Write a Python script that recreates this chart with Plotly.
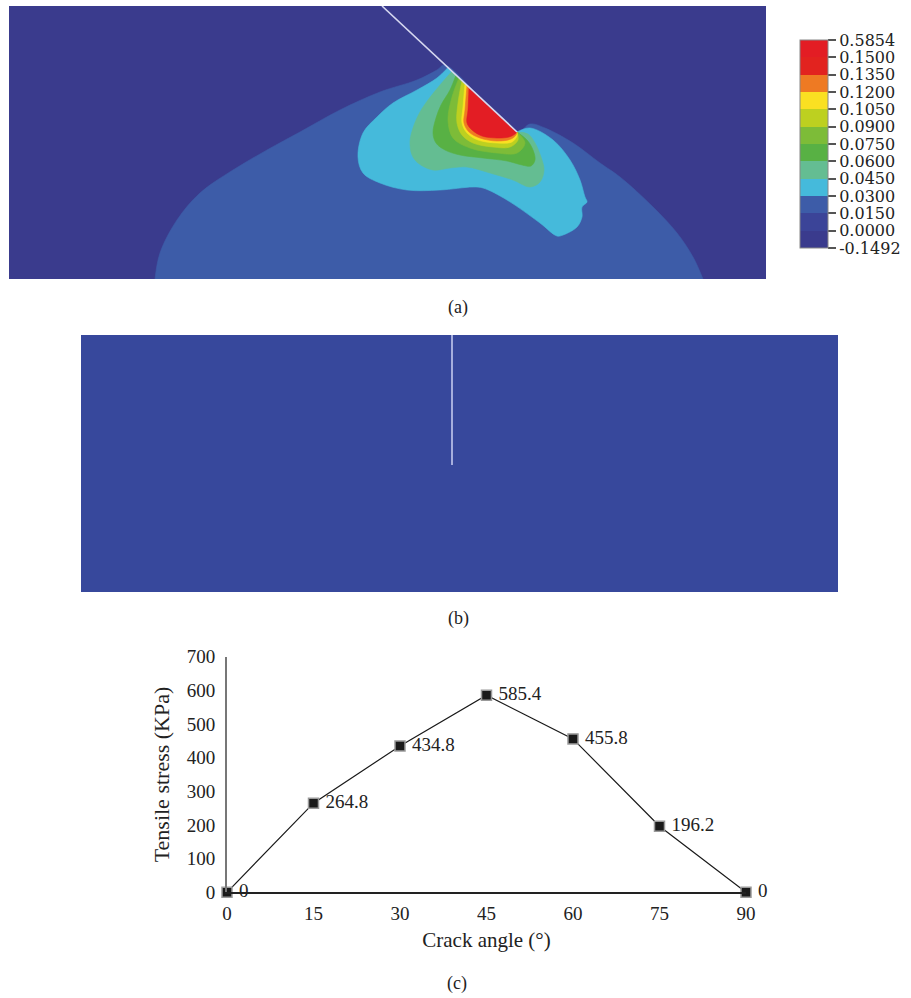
import plotly.graph_objects as go

# ---------------- data ----------------
# colour-bar levels of panel (a), bottom -> top
level_labels = ["-0.1492", "0.0000", "0.0150", "0.0300", "0.0450", "0.0600", "0.0750",
                "0.0900", "0.1050", "0.1200", "0.1350", "0.1500", "0.5854"]
level_colors = ["#3A3B8D", "#3B4498", "#3D5CA8", "#45BADB", "#64BD92", "#58B144",
                "#7DBC38", "#BDD020", "#FAE022", "#EE7A23", "#E2231F", "#E31D24"]

# panel (a): band outlines (model units, x across, depth down)
band2_x = [146, 151, 168, 191, 224, 258, 291, 331, 371, 408, 428, 436, 508, 521, 536,
           564, 591, 611, 644, 668, 684, 694]
band2_d = [273, 247, 214, 187, 164, 144, 126, 104, 86, 74, 64, 59, 126, 118, 122,
           137, 157, 171, 201, 227, 251, 273]

band3_x = [439, 428, 408, 384, 368, 354, 349, 354, 371, 398, 431, 464, 474, 498, 531,
           548, 554, 568, 573, 573, 578, 576, 571, 561, 544, 521, 508]
band3_d = [61.6, 72, 84, 97, 111, 127, 151, 167, 177, 184, 184, 181, 182, 194, 217,
           230, 229, 221, 211, 201, 196, 191, 174, 154, 134, 122, 126]

band4_x = [443, 431, 419, 411, 404, 401, 403, 409, 424, 441, 458, 481, 504, 521, 531,
           535, 532, 526, 519, 508]
band4_d = [65.3, 79, 94, 106, 122, 136, 149, 157, 164, 162, 161, 167, 174, 181, 176,
           164, 151, 137, 128, 126]

band5_x = [447, 441, 432, 427, 424, 427, 436, 451, 474, 498, 513, 522, 526, 524, 518, 508]
band5_d = [69.1, 84, 99, 112, 127, 137, 144, 149, 152, 155, 159, 160, 154, 144, 134, 126]

band6_x = [450, 443, 439, 444, 461, 488, 508, 516, 508]
band6_d = [71.9, 91, 114, 132, 142, 147, 147, 137, 126]

band7_x = [453, 449, 448, 453, 464, 484, 501, 509, 508]
band7_d = [74.7, 97, 117, 129, 137, 141, 141, 134, 126]

band8_x = [456, 454, 453, 458, 469, 488, 503, 508, 508]
band8_d = [77.5, 101, 117, 127, 134, 137, 136, 130, 126]

band9_x = [458, 456, 455, 460, 471, 488, 502, 507, 508]
band9_d = [79.3, 104, 117, 126, 132, 135, 133, 129, 126]

band11_x = [460, 459, 458, 463, 473, 488, 500, 506, 508]
band11_d = [81.2, 104, 117, 124, 130, 132, 131, 128, 126]

crack_a_x = [373, 508]
crack_a_d = [0, 126]

# panel (b): vertical crack
crack_b_x = [371, 371]
crack_b_d = [0, 130]

# panel (c): tensile stress vs crack angle
angles = [0, 15, 30, 45, 60, 75, 90]
stress = [0, 264.8, 434.8, 585.4, 455.8, 196.2, 0]
x_ticks = [0, 15, 30, 45, 60, 75, 90]

# ---------------- figure ----------------
SERIF = "Liberation Serif"
W, H = 911, 998

fig = go.Figure()

bands = [(2, band2_x, band2_d), (3, band3_x, band3_d), (4, band4_x, band4_d),
         (5, band5_x, band5_d), (6, band6_x, band6_d), (7, band7_x, band7_d),
         (8, band8_x, band8_d), (9, band9_x, band9_d), (11, band11_x, band11_d)]
for lvl, bx, bd in bands:
    fig.add_trace(go.Scatter(x=bx, y=bd, mode="lines", fill="toself",
                             fillcolor=level_colors[lvl], line=dict(width=0.6, color=level_colors[lvl]),
                             line_shape="spline", xaxis="x", yaxis="y",
                             hoverinfo="skip", showlegend=False))

fig.add_trace(go.Scatter(x=crack_a_x, y=crack_a_d, mode="lines",
                         line=dict(color="#D6D8F0", width=1.6), xaxis="x", yaxis="y",
                         hoverinfo="skip", showlegend=False))

# colour bar (dummy trace)
cs = []
n = len(level_colors)
for i, c in enumerate(level_colors):
    cs.append([i / n, c])
    cs.append([(i + 1) / n, c])
fig.add_trace(go.Scatter(
    x=[None], y=[None], mode="markers", xaxis="x", yaxis="y", showlegend=False,
    marker=dict(color=[0], cmin=0, cmax=n, colorscale=cs, showscale=True,
                colorbar=dict(x=800 / W, xanchor="left", xpad=0,
                              y=1 - 144 / H, yanchor="middle", ypad=0,
                              len=208, lenmode="pixels", thickness=28,
                              tickvals=list(range(n + 1)), ticktext=level_labels,
                              ticks="outside", ticklen=8, tickwidth=1.5, tickcolor="#555",
                              outlinecolor="#888", outlinewidth=1,
                              tickfont=dict(family="DejaVu Serif", size=16, color="#222")))))

# panel (b)
fig.add_trace(go.Scatter(x=crack_b_x, y=crack_b_d, mode="lines",
                         line=dict(color="#A6AEDD", width=2), xaxis="x2", yaxis="y2",
                         hoverinfo="skip", showlegend=False))

# panel (c)
fig.add_trace(go.Scatter(
    x=angles, y=stress, mode="lines+markers+text", xaxis="x3", yaxis="y3",
    line=dict(color="#1A1A1A", width=1.2),
    marker=dict(symbol="square", size=10, color="#1A1A1A", line=dict(color="#9A9A9A", width=1.5)),
    text=[" " + f"{v:g}" for v in stress], textposition="middle right",
    textfont=dict(family=SERIF, size=19, color="#222"),
    cliponaxis=False, showlegend=False, hoverinfo="skip"))

hidden = dict(visible=False, showgrid=False, zeroline=False, fixedrange=True)
cap_font = dict(family=SERIF, size=18, color="#222")

fig.update_layout(
    width=W, height=H, margin=dict(l=0, r=0, t=0, b=0, autoexpand=False),
    paper_bgcolor="white", plot_bgcolor="rgba(0,0,0,0)",
    showlegend=False,
    xaxis=dict(domain=[9 / W, 766 / W], range=[0, 757], anchor="y", **hidden),
    yaxis=dict(domain=[1 - 279 / H, 1 - 6 / H], range=[273, 0], anchor="x", **hidden),
    xaxis2=dict(domain=[81 / W, 838 / W], range=[0, 757], anchor="y2", **hidden),
    yaxis2=dict(domain=[1 - 592 / H, 1 - 335 / H], range=[257, 0], anchor="x2", **hidden),
    xaxis3=dict(domain=[227 / W, 746 / W], range=[0, 90], tickvals=x_ticks, anchor="y3",
                showline=True, linecolor="#222", linewidth=1.5, showgrid=False, zeroline=False,
                ticks="", ticklabelstandoff=3,
                tickfont=dict(family=SERIF, size=19, color="#222"),
                title=dict(text="Crack angle (°)", standoff=9,
                           font=dict(family=SERIF, size=21, color="#222"))),
    yaxis3=dict(domain=[1 - 892.3 / H, 1 - 656.7 / H], range=[0, 700], dtick=100, anchor="x3",
                showline=True, linecolor="#777", linewidth=2, showgrid=False, zeroline=False,
                ticks="", ticklabelstandoff=6,
                tickfont=dict(family=SERIF, size=19, color="#222"),
                title=dict(text="Tensile stress (KPa)", standoff=11,
                           font=dict(family=SERIF, size=22, color="#222"))),
    shapes=[
        dict(type="rect", xref="x domain", yref="y domain", x0=0, x1=1, y0=0, y1=1,
             fillcolor=level_colors[0], line=dict(width=0), layer="below"),
        dict(type="rect", xref="x2 domain", yref="y2 domain", x0=0, x1=1, y0=0, y1=1,
             fillcolor="#37489C", line=dict(width=0), layer="below"),
    ],
    annotations=[
        dict(text="(a)", x=458 / W, y=1 - 307 / H, xref="paper", yref="paper",
             xanchor="center", yanchor="middle", showarrow=False, font=cap_font),
        dict(text="(b)", x=458 / W, y=1 - 618 / H, xref="paper", yref="paper",
             xanchor="center", yanchor="middle", showarrow=False, font=cap_font),
        dict(text="(c)", x=457 / W, y=1 - 983 / H, xref="paper", yref="paper",
             xanchor="center", yanchor="middle", showarrow=False, font=cap_font),
    ],
)

fig.write_html("out.html", config={"displayModeBar": False},
               post_script="document.body.style.margin='0px';")
